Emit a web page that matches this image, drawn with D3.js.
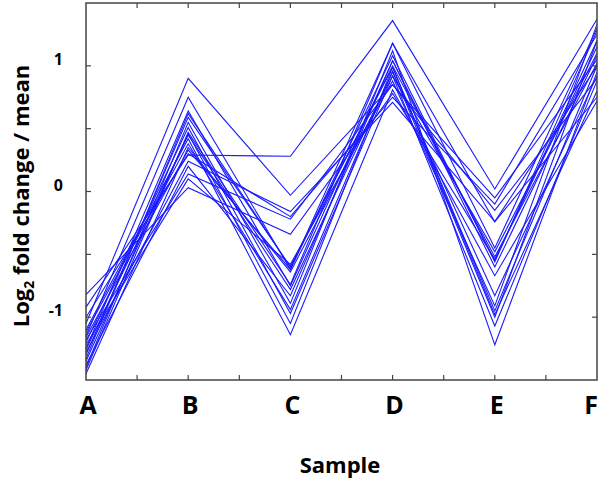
<!DOCTYPE html>
<html>
<head>
<meta charset="utf-8">
<style>
  body { margin: 0; background: #fff; }
  text { font-family: "Open Sans", Lato, sans-serif; font-weight: bold; fill: #000; }
</style>
</head>
<body>
<svg width="600" height="480"></svg>
<script src="https://d3js.org/d3.v7.min.js"></script>
<script>
  // samples on the x axis
  var samples = ["A", "B", "C", "D", "E", "F"];
  // y tick labels
  var yLabels = [-1, 0, 1];

  // one profile per gene, log2 fold change over the mean
  var profiles = [
    [-0.92, 0.29, 0.28, 1.36, 0.02, 1.37],
    [-1.05, 0.90, -0.03, 0.85, -0.05, 1.05],
    [-1.15, 0.75, -0.62, 1.18, -0.45, 1.30],
    [-1.25, 0.64, -0.75, 1.04, -0.55, 1.20],
    [-1.30, 0.59, -0.60, 0.99, -0.95, 1.00],
    [-1.40, 0.55, -0.89, 1.12, -1.22, 0.95],
    [-1.20, 0.51, -0.97, 0.92, -1.07, 0.88],
    [-1.35, 0.46, -1.05, 0.99, -0.98, 0.80],
    [-1.10, 0.42, -1.14, 0.81, -0.67, 0.72],
    [-1.45, 0.35, -0.64, 0.92, -0.48, 1.10],
    [-1.00, 0.30, -0.20, 0.75, -0.10, 1.25],
    [-1.28, 0.24, -0.16, 0.71, -0.24, 1.00],
    [-1.18, 0.14, -0.22, 0.85, -0.15, 0.90],
    [-0.82, 0.03, -0.34, 0.78, -0.54, 1.15],
    [-1.38, 0.20, -0.83, 1.04, -0.60, 1.08],
    [-1.22, 0.10, -0.58, 0.88, -0.91, 1.33],
    [-1.42, 0.47, -0.74, 1.18, -0.24, 0.75],
    [-1.12, 0.38, -0.94, 0.96, -1.00, 1.20],
    [-1.33, 0.62, -0.60, 1.00, -0.52, 1.02],
    [-1.26, 0.45, -0.78, 0.95, -0.83, 0.92],
    [-1.16, 0.33, -0.62, 1.08, -0.56, 1.28]
  ];

  var svg = d3.select("svg"),
    pLeft = 86, pRight = 597, pTop = 3, pBottom = 380;

  var x = d3.scaleLinear().domain([0, samples.length - 1]).range([pLeft, pRight]);
  var y = d3.scaleLinear().domain([-1.5, 1.5]).range([pBottom, pTop]);

  // lines
  var line = d3.line()
    .x(function(d, i) { return x(i); })
    .y(function(d) { return y(d); });

  svg.append("g").selectAll("path")
    .data(profiles)
    .enter().append("path")
    .attr("d", line)
    .attr("fill", "none")
    .attr("stroke", "#1a1aff")
    .attr("stroke-width", 1.1);

  // frame
  svg.append("rect")
    .attr("x", pLeft).attr("y", pTop)
    .attr("width", pRight - pLeft).attr("height", pBottom - pTop)
    .attr("fill", "none").attr("stroke", "#444").attr("stroke-width", 1.5);

  // inward ticks on all four sides
  var xt = d3.range(0.5, samples.length - 1, 0.5);
  var yt = d3.range(-1, 1.01, 0.5);
  var tk = svg.append("g").attr("stroke", "#444").attr("stroke-width", 1.2);
  xt.forEach(function(t) {
    tk.append("line").attr("x1", x(t)).attr("x2", x(t)).attr("y1", pBottom).attr("y2", pBottom - 5);
    tk.append("line").attr("x1", x(t)).attr("x2", x(t)).attr("y1", pTop).attr("y2", pTop + 5);
  });
  yt.forEach(function(t) {
    tk.append("line").attr("y1", y(t)).attr("y2", y(t)).attr("x1", pLeft).attr("x2", pLeft + 5);
    tk.append("line").attr("y1", y(t)).attr("y2", y(t)).attr("x1", pRight).attr("x2", pRight - 5);
  });

  // y tick labels
  svg.append("g").selectAll("text")
    .data(yLabels)
    .enter().append("text")
    .attr("x", 63)
    .attr("y", function(d) { return y(d) - 1; })
    .attr("text-anchor", "end")
    .attr("font-size", 16)
    .text(function(d) { return d; });

  // x labels
  svg.append("g").selectAll("text")
    .data(samples)
    .enter().append("text")
    .attr("x", function(d, i) { return Math.min(x(i) + 2, 591); })
    .attr("y", 414)
    .attr("text-anchor", "middle")
    .attr("font-size", 25)
    .text(function(d) { return d; });

  // axis titles
  svg.append("text")
    .attr("x", 340).attr("y", 473)
    .attr("text-anchor", "middle")
    .attr("font-size", 22)
    .text("Sample");

  var yt2 = svg.append("text")
    .attr("transform", "translate(29," + 196 + ") rotate(-90)")
    .attr("text-anchor", "middle")
    .attr("font-size", 22);
  yt2.append("tspan").text("Log");
  yt2.append("tspan").attr("font-size", 14).attr("dy", 5).text("2");
  yt2.append("tspan").attr("dy", -5).text(" fold change / mean");
</script>
</body>
</html>
